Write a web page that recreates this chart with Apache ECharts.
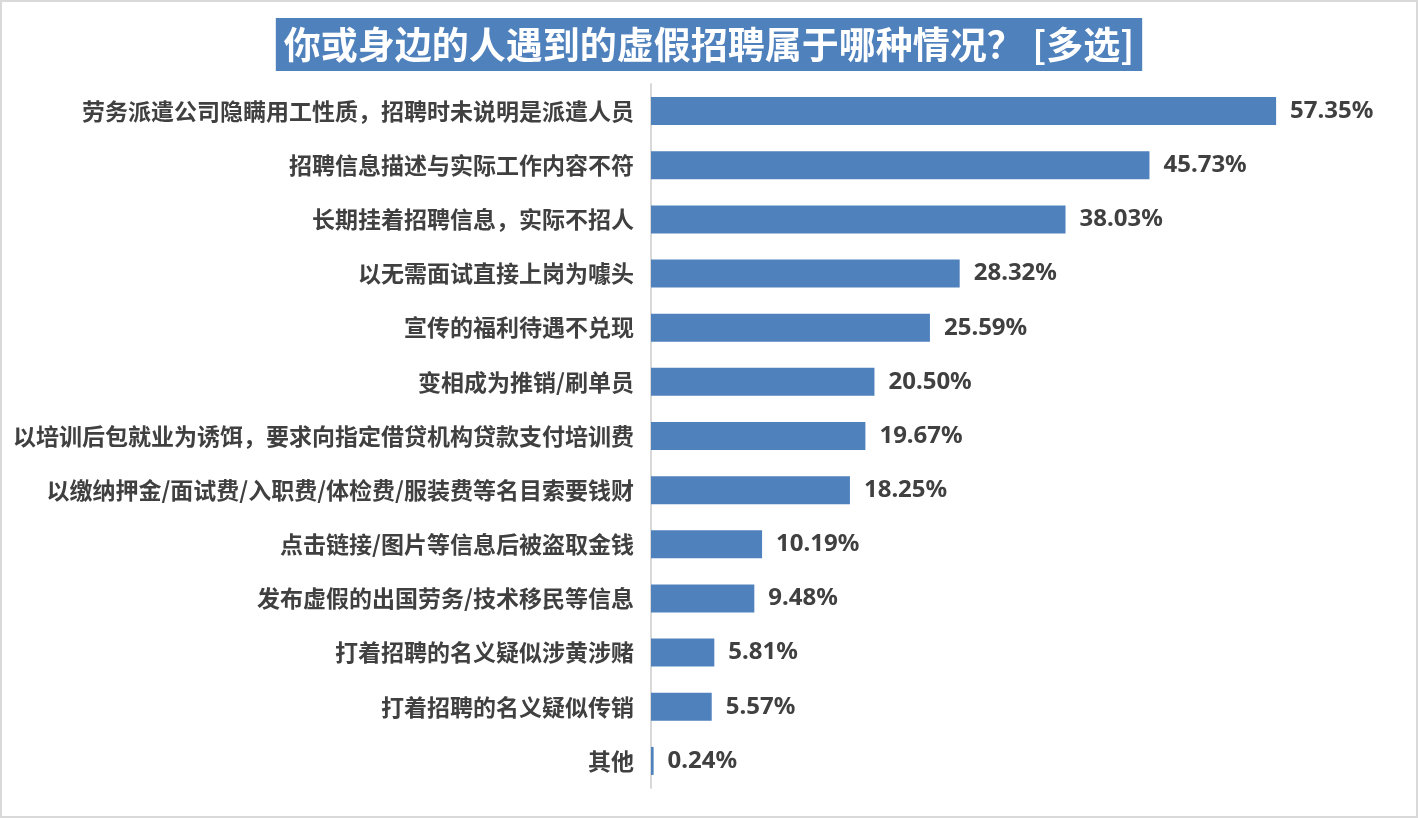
<!DOCTYPE html>
<html>
<head>
<meta charset="utf-8">
<script src="https://cdn.jsdelivr.net/npm/echarts@6/dist/echarts.min.js"></script>
<style>
html,body{margin:0;padding:0;background:#fff;}
#main{width:1418px;height:819px;}
</style>
</head>
<body>
<div id="main"></div>
<script>
const titleText = '你或身边的人遇到的虚假招聘属于哪种情况？ [多选]';
const categories = [
  '劳务派遣公司隐瞒用工性质，招聘时未说明是派遣人员',
  '招聘信息描述与实际工作内容不符',
  '长期挂着招聘信息，实际不招人',
  '以无需面试直接上岗为噱头',
  '宣传的福利待遇不兑现',
  '变相成为推销/刷单员',
  '以培训后包就业为诱饵，要求向指定借贷机构贷款支付培训费',
  '以缴纳押金/面试费/入职费/体检费/服装费等名目索要钱财',
  '点击链接/图片等信息后被盗取金钱',
  '发布虚假的出国劳务/技术移民等信息',
  '打着招聘的名义疑似涉黄涉赌',
  '打着招聘的名义疑似传销',
  '其他'
];
const values = [57.35, 45.73, 38.03, 28.32, 25.59, 20.50, 19.67, 18.25, 10.19, 9.48, 5.81, 5.57, 0.24];

const chart = echarts.init(document.getElementById('main'), null, {renderer: 'canvas'});
const textColor = '#404040';
chart.setOption({
  backgroundColor: '#ffffff',
  animation: false,
  title: {
    text: titleText,
    left: 'center',
    top: 18,
    backgroundColor: '#4F81BD',
    padding: [5, 8, 5, 8],
    textStyle: {
      color: '#ffffff',
      fontSize: 37,
      fontWeight: 'bold',
      fontFamily: '"Noto Sans CJK SC", sans-serif',
      lineHeight: 43
    }
  },
  graphic: [{
    type: 'rect',
    shape: {x: 1, y: 1, width: 1416, height: 816},
    style: {fill: 'none', stroke: '#d9d9d9', lineWidth: 2},
    silent: true,
    z: -1
  }],
  grid: {left: 651, top: 84, width: 654, height: 704, containLabel: false},
  xAxis: {
    type: 'value',
    min: 0,
    max: 60,
    show: false
  },
  yAxis: {
    type: 'category',
    inverse: true,
    data: categories,
    axisLine: {show: true, lineStyle: {color: '#d9d9d9', width: 2}},
    axisTick: {show: false},
    axisLabel: {
      margin: 17,
      color: textColor,
      fontSize: 23,
      fontWeight: 'bold',
      fontFamily: '"Noto Sans CJK SC", sans-serif'
    }
  },
  series: [{
    type: 'bar',
    data: values,
    barWidth: 28,
    itemStyle: {color: '#4F81BD'},
    label: {
      show: true,
      position: 'right',
      distance: 14,
      color: textColor,
      fontSize: 24,
      fontWeight: 'bold',
      fontFamily: '"Noto Sans", "Open Sans", sans-serif',
      formatter: p => p.value.toFixed(2) + '%'
    }
  }]
});
</script>
</body>
</html>
